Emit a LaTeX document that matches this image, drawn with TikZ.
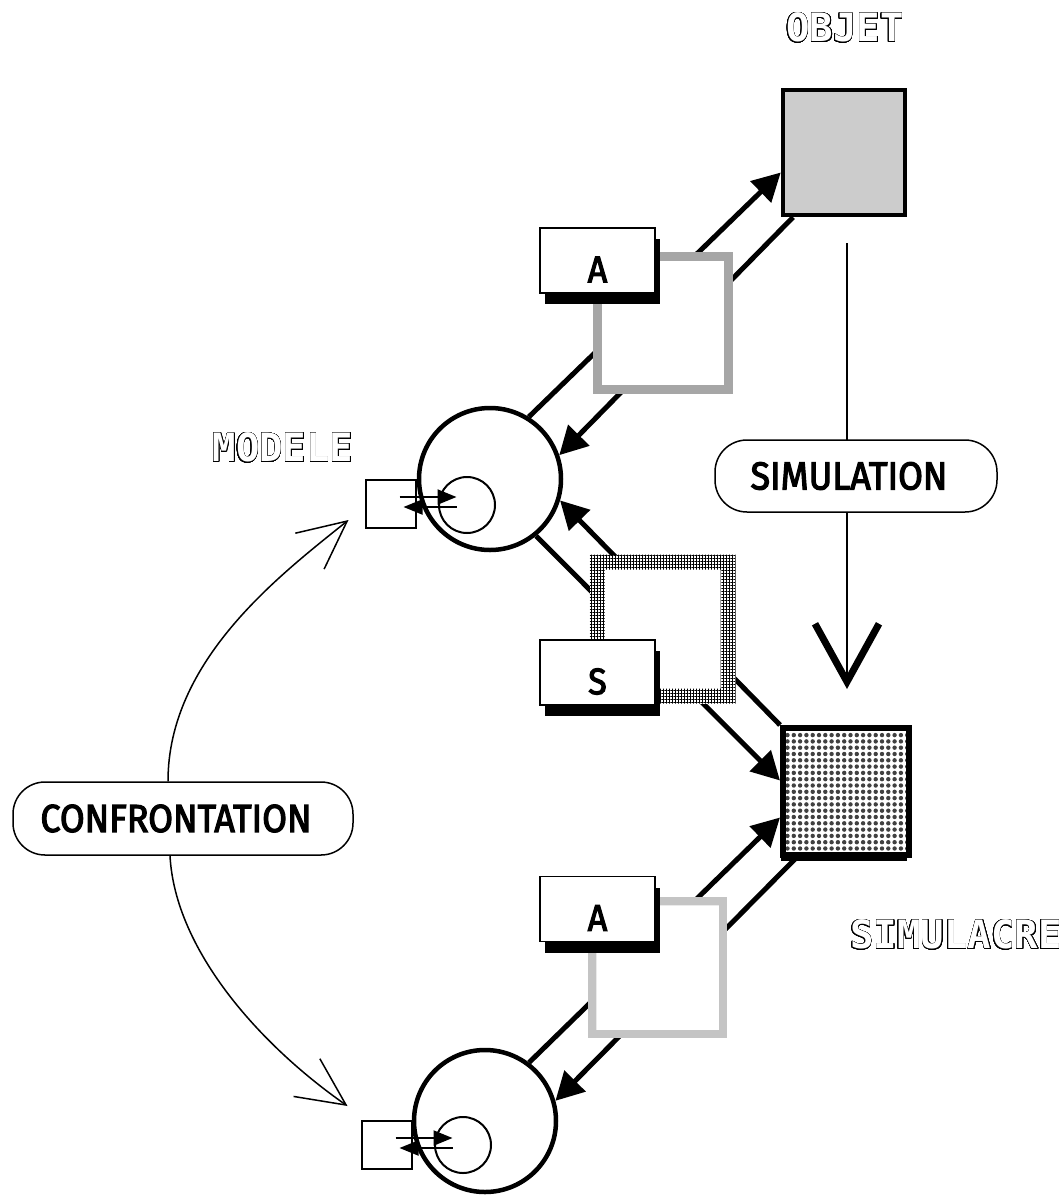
\documentclass[tikz,border=0pt]{standalone}
\usepackage{fontspec}
\usepackage{contour}
\usetikzlibrary{arrows.meta,calc,positioning,shadows,patterns.meta}
\newfontfamily\labfont{Fira Sans}[FakeBold=3,FakeStretch=0.92]
\newfontfamily\hollowfont{DejaVu Sans Mono}
\definecolor{FrameGray}{RGB}{166,166,166}
\definecolor{ObjGray}{RGB}{204,204,204}
\definecolor{DotGray}{RGB}{65,65,65}
\contourlength{0.45pt}
\contournumber{32}
\newcommand{\hollow}[1]{{\hollowfont\bfseries\fontsize{39}{44}\selectfont\color{white}\contour{black}{#1}}}

\begin{document}
\begin{tikzpicture}[x=1pt,y=-1pt,>=Latex,
    link/.style={line width=5pt},
    bighead/.style={-{Triangle[length=28pt,width=29pt]}},
    feedarr/.style={line width=2pt,-{Triangle[length=19pt,width=15pt]}},
    thinarr/.style={line width=1.5pt,-{Straight Barb[length=48pt,width=46pt,line width=1.5pt]}},
    tag/.style={draw,line width=1.5pt,fill=white,minimum width=115pt,minimum height=65pt,
      drop shadow={shadow xshift=5pt,shadow yshift=-11pt,fill=black,opacity=1}},
    tagtext/.style={font=\labfont\fontsize{37}{42}\selectfont,inner sep=0pt,yshift=-9pt},
    pill/.style={draw,line width=1.5pt,fill=white,rounded corners=32pt,minimum height=72pt},
    pilltext/.style={font=\labfont\fontsize{39}{44}\selectfont,inner sep=0pt,xshift=-7pt},
    bigcirc/.style={circle,draw,line width=4.5pt,fill=white,minimum size=142pt,inner sep=0pt},
    smallcirc/.style={circle,draw,line width=2pt,minimum size=56pt,inner sep=0pt},
    stub/.style={draw,line width=2pt,minimum width=50pt,minimum height=48pt,inner sep=0pt}]
  \useasboundingbox (0,0) rectangle (1063,1195);

  % boxes
  \node[draw,line width=4.5pt,fill=ObjGray,minimum width=122pt,minimum height=125pt] (objet) at (844,152.5) {};
  \node[drop shadow={shadow xshift=-2pt,shadow yshift=-6pt,fill=black,opacity=1},
    draw,line width=6pt,preaction={fill=white},pattern={Dots[distance=6.3pt,radius=2.2pt]},pattern color=DotGray,
    minimum width=126pt,minimum height=127pt] (simulacre) at (846,791.5) {};

  % models
  \foreach \m/\cx/\cy/\ix/\iy/\sx/\sy in {A/490/479/467/505/390.5/504,B/485/1121/463/1145/386.5/1145}{
    \node[stub] (sq\m) at (\sx,\sy) {};
    \node[bigcirc] (mod\m) at (\cx,\cy) {};
    \node[smallcirc] (in\m) at (\ix,\iy) {};
    \draw[feedarr] ([shift={(-17pt,7pt)}]sq\m.east) -- ([shift={(40pt,7pt)}]sq\m.east);
    \draw[feedarr] ([shift={(40pt,-3pt)}]sq\m.east) -- ([shift={(-13pt,-3pt)}]sq\m.east);
  }

  % links
  \draw[link,bighead] (modA.58) -- ([yshift=-20pt]objet.west);
  \draw[link,bighead] ([xshift=-51pt]objet.south) -- (modA.19);
  \draw[link,bighead] (simulacre.north west) -- (modA.-17);
  \draw[link,bighead] (modA.-51) -- ([yshift=11pt]simulacre.west);
  \draw[link,bighead] (modB.53) -- ([yshift=-26pt]simulacre.west);
  \draw[link,bighead] ([xshift=-50pt]simulacre.south) -- (modB.16);

  % gates
  \node[draw=FrameGray,line width=9pt,fill=white,minimum width=131pt,minimum height=133pt] (gateA) at (662.5,322.5) {};
  \node[fill=white,inner sep=0pt,outer sep=0pt,minimum width=146pt,minimum height=149pt] (gateS) at (662.5,629) {};
  \fill[pattern={Hatch[distance=3pt,line width=1pt]},even odd rule]
    (gateS.north west) rectangle (gateS.south east)
    ([shift={(15pt,-15pt)}]gateS.north west) rectangle ([shift={(-15pt,15pt)}]gateS.south east);
  \node[fill=white,inner sep=0pt,outer sep=0pt,minimum width=139pt,minimum height=141pt] (gateB) at (657.5,967.5) {};
  \fill[pattern={Dots[distance=2pt,radius=0.72pt]},pattern color=black,even odd rule]
    (gateB.north west) rectangle (gateB.south east)
    ([shift={(8pt,-8pt)}]gateB.north west) rectangle ([shift={(-8pt,8pt)}]gateB.south east);

  % tags
  \foreach \nm/\px/\py/\txt in {tagA/597.5/260.5/A,tagS/597.5/672.5/S,tagB/597.5/909/A}
    \node[tag,label={[tagtext]center:\txt}] (\nm) at (\px,\py) {};

  % simulation
  \draw[line width=1.5pt,-{Straight Barb[length=58pt,width=64pt,line width=7pt]},shorten <=26pt,shorten >=36pt]
    ([xshift=3pt]objet.south) -- ([xshift=1pt]simulacre.north);
  \node[pill,minimum width=282pt,label={[pilltext]center:SIMULATION}] (simul) at (856,476) {};

  % confrontation
  \node[pill,minimum width=340pt,minimum height=73pt,label={[pilltext]center:CONFRONTATION}] (confr) at (183,818.5) {};
  \draw[thinarr] ([xshift=-15pt]confr.north) .. controls (168,660) and (280,575) .. ([shift={(-16pt,9pt)}]sqA.south west);
  \draw[thinarr] ([xshift=-13pt]confr.south) .. controls (175,950) and (260,1045) .. ([shift={(-13pt,14pt)}]sqB.north west);

  % names
  \node[inner sep=0pt] (objlab) at (845,28) {\hollow{OBJET}};
  \node[inner sep=0pt] (modlab) at (283,448) {\hollow{MODELE}};
  \node[inner sep=0pt] (simlab) at (956,935) {\hollow{SIMULACRE}};
\end{tikzpicture}
\end{document}
